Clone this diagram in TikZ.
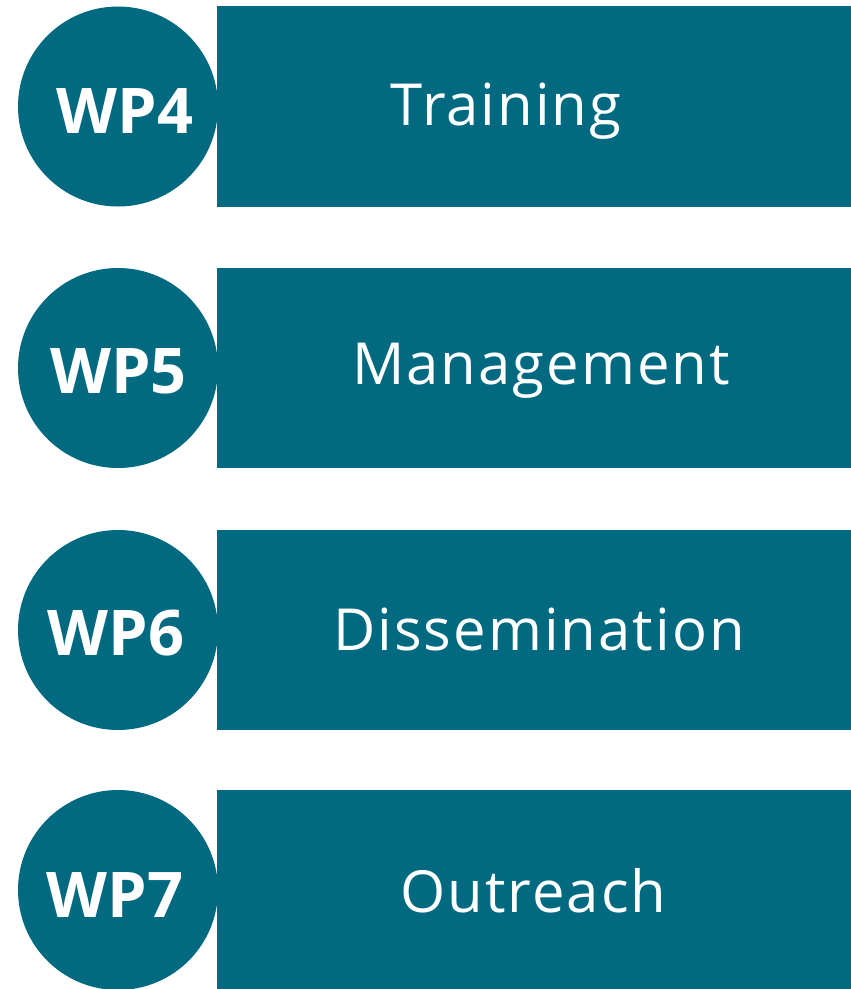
\documentclass[tikz,border=0pt]{standalone}
\usepackage{fontspec}
\setmainfont{Open Sans}
\newfontfamily\barfont[LetterSpace=3.5]{Open Sans}
\definecolor{teal}{RGB}{1,106,128}
\tikzset{
  bar/.style={fill=teal, draw=none},
  disc/.style={fill=teal, draw=none},
  wplabel/.style={text=white, font=\fontsize{63}{63}\selectfont\bfseries, anchor=base, inner sep=0pt},
  barlabel/.style={text=white, font=\barfont\fontsize{58}{58}\selectfont, anchor=base, inner sep=0pt}
}
\begin{document}
\begin{tikzpicture}[x=1pt,y=-1pt]
\useasboundingbox (0,0) rectangle (851,989);
% row 1
\path[bar] (217,6) rectangle (852,207);
\path[disc] (118,106.5) circle (100);
\node[wplabel] (wp4) at (125,133) {WP4};
\node[barlabel] (t4) at (506,125) {Training};
% row 2
\path[bar] (217,268) rectangle (852,468);
\path[disc] (118,368) circle (100);
\node[wplabel] (wp5) at (118.5,393) {WP5};
\node[barlabel] (t5) at (541,384) {Management};
% row 3
\path[bar] (217,530) rectangle (852,730);
\path[disc] (118,630) circle (100);
\node[wplabel] (wp6) at (116,655) {WP6};
\node[barlabel] (t6) at (539,650) {Dissemination};
% row 4
\path[bar] (217,790) rectangle (852,990);
\path[disc] (118,890) circle (100);
\node[wplabel] (wp7) at (115,917) {WP7};
\node[barlabel] (t7) at (533.5,912) {Outreach};
\end{tikzpicture}
\end{document}
